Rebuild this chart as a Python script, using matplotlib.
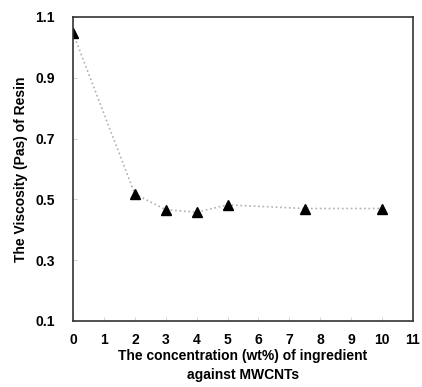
import matplotlib
matplotlib.use("Agg")
import matplotlib.pyplot as plt

conc = [0, 2, 3, 4, 5, 7.5, 10]
viscosity = [1.047, 0.518, 0.466, 0.458, 0.482, 0.470, 0.470]
xticks = list(range(0, 12))
yticks = [0.1, 0.3, 0.5, 0.7, 0.9, 1.1]

plt.rcParams['font.family'] = ['Liberation Sans', 'DejaVu Sans']
fig = plt.figure(figsize=(4.22, 3.87), dpi=100)
ax = fig.add_axes([73/422, 1-321/387, 340/422, 304/387])
ax.plot(conc, viscosity, linestyle=':', color='#b0b0b0', linewidth=1.2,
        marker='^', markersize=7.5, markerfacecolor='black', markeredgecolor='black')
ax.set_xlim(0, 11)
ax.set_ylim(0.1, 1.1)
ax.set_xticks(xticks)
ax.set_yticks(yticks)
ax.set_yticklabels([f"{v:.1f}" for v in yticks])
ax.tick_params(direction='in', length=3, width=0.6, color='#cccccc', labelsize=10)
ax.tick_params(axis='x', pad=9)
ax.tick_params(axis='y', pad=13)
for lab in ax.get_xticklabels() + ax.get_yticklabels():
    lab.set_fontweight('bold')
for s in ax.spines.values():
    s.set_linewidth(1.2)
    s.set_color('#333333')
ax.set_xlabel("The concentration (wt%) of ingredient\nagainst MWCNTs", fontsize=10,
              fontweight='bold', labelpad=1, linespacing=1.45)
ax.set_ylabel("The Viscosity (Pas) of Resin", fontsize=10, fontweight='bold', labelpad=5)
fig.savefig("out.png", dpi=100)
